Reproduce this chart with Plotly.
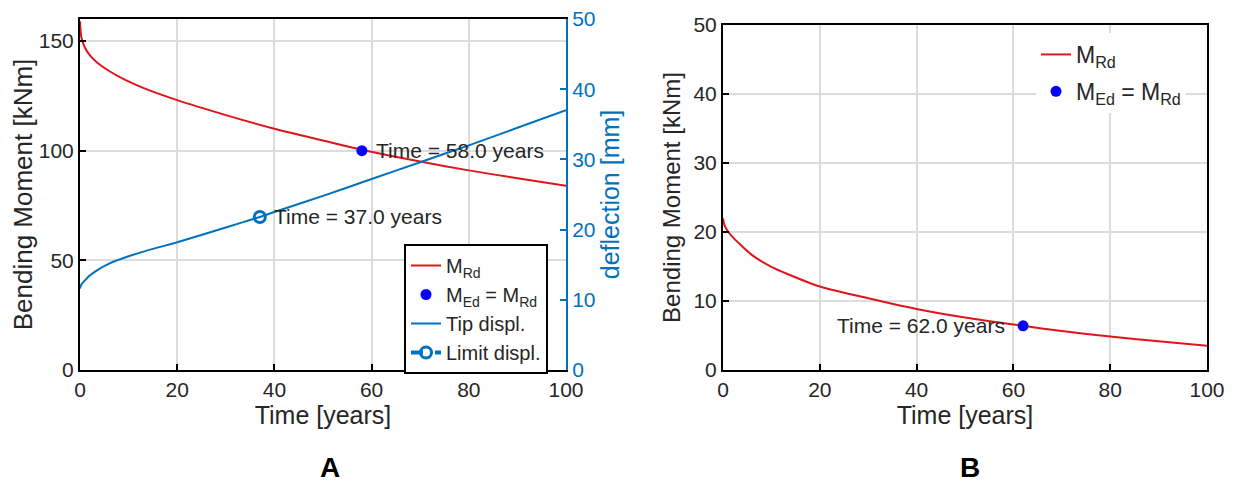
import plotly.graph_objects as go

# ---------------- data ----------------
# Panel A
t_a = [0, 0.3, 1, 2, 3.5, 6, 9, 13, 20, 30, 40, 50, 58, 70, 80, 90, 100]
m_rd_a = [159, 151.5, 147, 143.5, 140.2, 136.3, 132.6, 128.6, 123.0, 116.2, 110.0, 104.6, 100.4, 95.0, 91.0, 87.4, 84.0]
t_defl = [0, 0.3, 1, 2, 3.5, 6, 10, 15, 20, 30, 37, 40, 50, 60, 70, 80, 90, 100]
defl = [11.6, 12.2, 12.75, 13.45, 14.2, 15.15, 16.2, 17.25, 18.2, 20.3, 21.8, 22.5, 24.8, 27.2, 29.6, 32.0, 34.5, 37.0]
t_fail_a = [58.0]
m_fail_a = [100.0]
t_limit = [37.0]
defl_limit = [21.8]

# Panel B
t_b = [0, 0.3, 1, 2, 4, 6.3, 10, 13.2, 20, 30, 40, 50, 62, 70, 80, 90, 100]
m_rd_b = [22.0, 21.0, 20.1, 19.25, 17.9, 16.5, 14.95, 13.95, 12.1, 10.4, 8.85, 7.6, 6.4, 5.65, 4.85, 4.15, 3.52]
t_fail_b = [62.0]
m_fail_b = [6.4]

x_ticks = [0, 20, 40, 60, 80, 100]
y_ticks_a = [0, 50, 100, 150]
y2_ticks_a = [0, 10, 20, 30, 40, 50]
y_ticks_b = [0, 10, 20, 30, 40, 50]

# ---------------- style ----------------
RED = "#E0151B"
BLUE_LINE = "#0072BD"
BLUE_DOT = "#0000FF"
TXT = "#262626"
GRID = "#DCDCDC"
FONT = "Liberation Sans, Arial, sans-serif"
OFF = 8                      # page body margin of the html page
W, H = 1234 - OFF, 482 - OFF


def px(x):
    return (x - OFF) / W


def py(y):
    return (H - (y - OFF)) / H


fig = go.Figure()

line_smooth = dict(shape="spline", smoothing=0.8)

# Panel A traces
fig.add_trace(go.Scatter(x=t_a, y=m_rd_a, mode="lines", name="M<sub>Rd</sub>",
                         line=dict(color=RED, width=2, **line_smooth), legendgroup="a1",
                         xaxis="x", yaxis="y", legend="legend"))
fig.add_trace(go.Scatter(x=t_fail_a, y=m_fail_a, mode="markers", name="M<sub>Ed</sub> = M<sub>Rd</sub>",
                         marker=dict(color=BLUE_DOT, size=11), legendgroup="a2",
                         xaxis="x", yaxis="y", legend="legend"))
fig.add_trace(go.Scatter(x=t_defl, y=defl, mode="lines", name="Tip displ.",
                         line=dict(color=BLUE_LINE, width=2, **line_smooth), legendgroup="a3",
                         xaxis="x", yaxis="y2", legend="legend"))
fig.add_trace(go.Scatter(x=t_limit, y=defl_limit, mode="lines+markers", name="Limit displ.",
                         line=dict(color=BLUE_LINE, width=4, dash="dash"), legendgroup="a4",
                         marker=dict(symbol="circle-open", size=11, color=BLUE_LINE, line=dict(width=3)),
                         xaxis="x", yaxis="y2", legend="legend"))

# Panel B traces
fig.add_trace(go.Scatter(x=t_b, y=m_rd_b, mode="lines", name="M<sub>Rd</sub>",
                         line=dict(color=RED, width=2, **line_smooth), legendgroup="b1",
                         xaxis="x2", yaxis="y3", legend="legend2"))
fig.add_trace(go.Scatter(x=t_fail_b, y=m_fail_b, mode="markers", name="M<sub>Ed</sub> = M<sub>Rd</sub>",
                         marker=dict(color=BLUE_DOT, size=11), legendgroup="b2",
                         xaxis="x2", yaxis="y3", legend="legend2"))

axis_common = dict(showline=True, linecolor="black", linewidth=2, ticks="inside",
                   ticklen=6, tickwidth=2, tickcolor="black", showgrid=True,
                   gridcolor=GRID, gridwidth=1.5, zeroline=False, automargin=False,
                   ticklabeloverflow="allow",
                   tickfont=dict(family=FONT, size=21, color=TXT))

xa = dict(axis_common, range=[0, 100], tickvals=x_ticks, mirror=True,
          title=dict(text="Time [years]", font=dict(family=FONT, size=25, color=TXT), standoff=2))

fig.update_layout(
    width=W, height=H,
    margin=dict(l=0, r=0, t=0, b=0),
    paper_bgcolor="white", plot_bgcolor="white",
    showlegend=True,
    xaxis=dict(xa, domain=[px(80), px(566)], anchor="y"),
    yaxis=dict(axis_common, range=[0, 160], tickvals=y_ticks_a, mirror=False,
               domain=[py(370), py(19)], anchor="x",
               title=dict(text="Bending Moment [kNm]", font=dict(family=FONT, size=26, color=TXT), standoff=6)),
    yaxis2=dict(showline=True, linecolor=BLUE_LINE, linewidth=2, ticks="inside", ticklen=6,
                tickwidth=2, tickcolor=BLUE_LINE, showgrid=False, zeroline=False, automargin=False,
                ticklabeloverflow="allow",
                range=[0, 50], tickvals=y2_ticks_a, overlaying="y", side="right", anchor="x",
                tickfont=dict(family=FONT, size=21, color=BLUE_LINE),
                title=dict(text="deflection [mm]", font=dict(family=FONT, size=25, color=BLUE_LINE), standoff=6)),
    xaxis2=dict(xa, domain=[px(723), px(1207)], anchor="y3"),
    yaxis3=dict(axis_common, range=[0, 50], tickvals=y_ticks_b, mirror=True,
                domain=[py(370), py(25)], anchor="x2",
                title=dict(text="Bending Moment [kNm]", font=dict(family=FONT, size=24, color=TXT), standoff=6)),
    legend=dict(x=px(404), y=py(244), xanchor="left", yanchor="top",
                bgcolor="white", bordercolor="black", borderwidth=2,
                font=dict(family=FONT, size=20, color=TXT), tracegroupgap=0),
    legend2=dict(x=px(1036), y=py(33), xanchor="left", yanchor="top",
                 bgcolor="white", borderwidth=0,
                 font=dict(family=FONT, size=23, color=TXT), tracegroupgap=4),
    annotations=[
        dict(x=t_fail_a[0], y=m_fail_a[0], xref="x", yref="y", text="Time = 58.0 years",
             showarrow=False, xanchor="left", yanchor="middle", xshift=12,
             font=dict(family=FONT, size=21, color=TXT)),
        dict(x=t_limit[0], y=defl_limit[0], xref="x", yref="y2", text="Time = 37.0 years",
             showarrow=False, xanchor="left", yanchor="middle", xshift=12,
             font=dict(family=FONT, size=21, color=TXT)),
        dict(x=t_fail_b[0], y=m_fail_b[0], xref="x2", yref="y3", text="Time = 62.0 years",
             showarrow=False, xanchor="right", yanchor="middle", xshift=-16,
             font=dict(family=FONT, size=21, color=TXT)),
        dict(x=px(330), y=py(467), xref="paper", yref="paper", text="<b>A</b>",
             showarrow=False, xanchor="center", yanchor="middle",
             font=dict(family=FONT, size=28, color="black")),
        dict(x=px(970), y=py(467), xref="paper", yref="paper", text="<b>B</b>",
             showarrow=False, xanchor="center", yanchor="middle",
             font=dict(family=FONT, size=28, color="black")),
    ],
)

fig.write_html("out.html")
